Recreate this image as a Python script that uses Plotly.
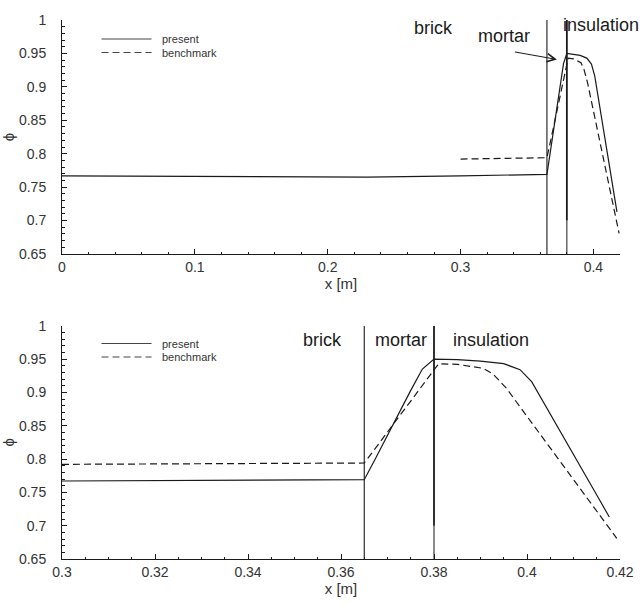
import plotly.graph_objects as go

# ---- data ----
present_x = [0, 0.1, 0.2, 0.23, 0.3, 0.365, 0.3675, 0.37, 0.3725, 0.375, 0.3775, 0.38,
             0.385, 0.39, 0.395, 0.3985, 0.401, 0.405, 0.41, 0.415, 0.4177]
present_y = [0.767, 0.766, 0.765, 0.765, 0.767, 0.769, 0.802, 0.836, 0.869, 0.903, 0.935, 0.950,
             0.949, 0.947, 0.943, 0.934, 0.916, 0.868, 0.807, 0.746, 0.713]
bench_x = [0.3, 0.365, 0.3675, 0.37, 0.3725, 0.375, 0.3775, 0.381, 0.385, 0.3906, 0.3927,
           0.3956, 0.40, 0.405, 0.41, 0.415, 0.4193]
bench_y = [0.792, 0.794, 0.817, 0.841, 0.864, 0.887, 0.911, 0.943, 0.942, 0.936, 0.9275,
           0.906, 0.864, 0.817, 0.769, 0.722, 0.681]
boundaries = [0.365, 0.38]
layer_names = ["brick", "mortar", "insulation"]
series_names = ["present", "benchmark"]

INK = "#1a1a1a"
FONT = "Liberation Sans, Arial, sans-serif"

fig = go.Figure()
for xa, ya in [("x", "y"), ("x2", "y2")]:
    fig.add_trace(go.Scatter(x=present_x, y=present_y, mode="lines", xaxis=xa, yaxis=ya,
                             line=dict(color=INK, width=1.2), showlegend=False))
    fig.add_trace(go.Scatter(x=bench_x, y=bench_y, mode="lines", xaxis=xa, yaxis=ya,
                             line=dict(color=INK, width=1.2, dash="7px,4px"), showlegend=False))

# boundary lines
for xr, yr in [("x", "y"), ("x2", "y2")]:
    fig.add_shape(type="line", xref=xr, yref=yr, x0=boundaries[0], x1=boundaries[0],
                  y0=0.65, y1=1.0, line=dict(color=INK, width=1.1))
    fig.add_shape(type="line", xref=xr, yref=yr, x0=boundaries[1], x1=boundaries[1],
                  y0=0.70, y1=1.0, line=dict(color=INK, width=1.8))
    fig.add_shape(type="line", xref=xr, yref=yr, x0=boundaries[1], x1=boundaries[1],
                  y0=0.65, y1=0.70, line=dict(color=INK, width=1.0))

# legends (manual, one per panel)
for ytop in [1 - (39 - 20) / 539, (559 - 343.5) / 539]:
    for i, (nm, dash) in enumerate(zip(series_names, ["solid", "7px,4px"])):
        yy = ytop - i * 13.5 / 539
        fig.add_shape(type="line", xref="paper", yref="paper",
                      x0=(101.5 - 62) / 558, x1=(151.5 - 62) / 558, y0=yy, y1=yy,
                      line=dict(color="#444", width=1.2, dash=dash))
        fig.add_annotation(xref="paper", yref="paper", x=(160 - 62) / 558, y=yy,
                           text=nm, showarrow=False, xanchor="left", yanchor="middle",
                           font=dict(size=11, color="#333", family=FONT))

lab_font = dict(size=18, color=INK, family=FONT)
# top panel labels
fig.add_annotation(xref="x", yref="y", x=0.2795, y=0.9887, text=layer_names[0],
                   showarrow=False, font=lab_font)
fig.add_annotation(xref="x", yref="y", x=0.3325, y=0.9760, text=layer_names[1],
                   showarrow=False, font=lab_font)
fig.add_annotation(xref="x", yref="y domain", x=0.4055, y=1.03, text=layer_names[2],
                   showarrow=False, font=lab_font)
fig.add_annotation(xref="x", yref="y", axref="x", ayref="y", x=0.3725, y=0.941,
                   ax=0.3398, ay=0.9526, text="", showarrow=True, arrowhead=5,
                   arrowsize=1.6, arrowwidth=1, arrowcolor=INK)
# bottom panel labels
fig.add_annotation(xref="x2", yref="y2", x=0.3561, y=0.979, text=layer_names[0],
                   showarrow=False, font=lab_font)
fig.add_annotation(xref="x2", yref="y2", x=0.3729, y=0.979, text=layer_names[1],
                   showarrow=False, font=lab_font)
fig.add_annotation(xref="x2", yref="y2", x=0.3923, y=0.979, text=layer_names[2],
                   showarrow=False, font=lab_font)

tickfont = dict(size=14, color="#333", family=FONT)
titlefont = dict(size=15, color="#333", family=FONT)
common = dict(showline=True, linecolor=INK, linewidth=1, ticks="inside", ticklen=5,
              tickcolor=INK, tickwidth=1, showgrid=False, zeroline=False,
              tickfont=tickfont, mirror=False, automargin=False)
ycommon = dict(common, range=[0.65, 1.0], dtick=0.05, tick0=0.65,
               minor=dict(dtick=0.01, ticks="inside", ticklen=2.5, tickcolor=INK),
               title=dict(text="ϕ", font=titlefont, standoff=14), ticklabelstandoff=12)

fig.update_layout(
    width=641, height=605, margin=dict(l=62, r=21, t=20, b=46),
    plot_bgcolor="white", paper_bgcolor="white", showlegend=False,
    font=dict(family=FONT),
    xaxis=dict(common, domain=[0, 1], anchor="y", range=[0, 0.42], dtick=0.1, tick0=0,
               minor=dict(dtick=0.02, ticks="inside", ticklen=2.5, tickcolor=INK),
               title=dict(text="x [m]", font=titlefont, standoff=4)),
    yaxis=dict(ycommon, domain=[(559 - 254) / 539, 1], anchor="x"),
    xaxis2=dict(common, domain=[0, 1], anchor="y2", range=[0.3, 0.42], dtick=0.02, tick0=0.3,
                minor=dict(dtick=0.005, ticks="inside", ticklen=2.5, tickcolor=INK),
                title=dict(text="x [m]", font=titlefont, standoff=4)),
    yaxis2=dict(ycommon, domain=[0, (559 - 325.7) / 539], anchor="x2"),
)

fig.write_html("out.html")
